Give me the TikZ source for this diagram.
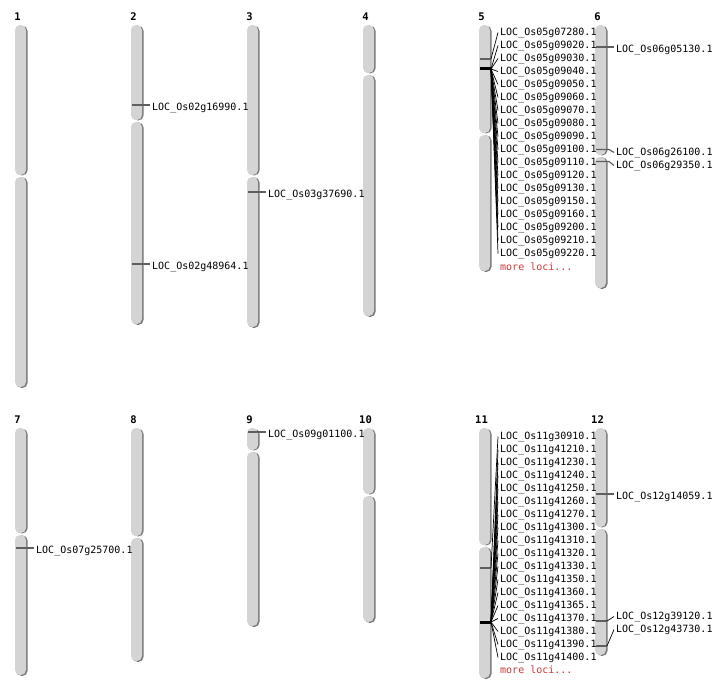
\documentclass[tikz,border=0pt]{standalone}
\usepackage{fontspec}
\newfontfamily\labfont{DejaVu Sans Mono}
\definecolor{armfill}{RGB}{212,212,212}
\definecolor{armshade}{RGB}{120,120,120}
\definecolor{mkgray}{RGB}{95,95,95}
\definecolor{morered}{RGB}{205,55,55}
\tikzset{
  armshadow/.style={fill=armshade, rounded corners=5bp},
  armbody/.style={fill=armfill, rounded corners=5bp},
  lab/.style={anchor=west, inner xsep=2bp, inner ysep=0pt, font=\labfont\fontsize{10bp}{12bp}\selectfont},
  more/.style={lab, text=morered},
  num/.style={inner sep=0pt, font=\labfont\bfseries\fontsize{10.5bp}{12bp}\selectfont},
  markline/.style={draw=mkgray, line width=1.6bp},
  hotmark/.style={draw=black, line width=3bp},
  fan/.style={draw=black, line width=0.7bp},
  conn/.style={draw=mkgray, line width=1.2bp},
}
% name, x-left, top, centromere, bottom
\newcommand\chromo[5]{%
  \fill[armshadow] (#2+1.5,#3+0.8) rectangle (#2+12.5,#4-0.6);
  \fill[armshadow] (#2+1.5,#4+1.4) rectangle (#2+12.5,#5+0.9);
  \fill[armbody] (#2,#3) rectangle (#2+11,#4-1);
  \fill[armbody] (#2,#4+1) rectangle (#2+11,#5);
  \coordinate (c#1) at (#2+5.5,#3);
  \node[num] (n#1) at (#2+2.5,#3-8) {#1};
}
\begin{document}
\begin{tikzpicture}[x=1bp,y=-1bp]
\useasboundingbox (0,0) rectangle (712,700);
% ---- row 1
\chromo{1}{15}{25}{176}{387}
\chromo{2}{131}{25}{121}{324}
\chromo{3}{247}{25}{176}{327}
\chromo{4}{363}{25}{74}{316}
\chromo{5}{479}{25}{134}{271}
\chromo{6}{595}{25}{156}{288}
% ---- row 2
\chromo{7}{15}{428}{534}{675}
\chromo{8}{131}{428}{537}{661}
\chromo{9}{247}{428}{451}{626}
\chromo{10}{363}{428}{495}{622}
\chromo{11}{479}{428}{546}{678}
\chromo{12}{595}{428}{528}{655}

% chromosome 2
\coordinate (m2a) at (132,105);
\node[lab] (l2a) at (150,107.5) {LOC\_Os02g16990.1};
\draw[conn] (m2a) -- (m2a -| l2a.west);
\coordinate (m2b) at (132,264);
\node[lab] (l2b) at (150,266.5) {LOC\_Os02g48964.1};
\draw[conn] (m2b) -- (m2b -| l2b.west);
% chromosome 3
\coordinate (m3a) at (248,192);
\node[lab] (l3a) at (266,194.5) {LOC\_Os03g37690.1};
\draw[conn] (m3a) -- (m3a -| l3a.west);
% chromosome 7
\coordinate (m7a) at (16,548);
\node[lab] (l7a) at (34,550.5) {LOC\_Os07g25700.1};
\draw[conn] (m7a) -- (m7a -| l7a.west);
% chromosome 9
\coordinate (m9a) at (248,432);
\node[lab] (l9a) at (266,435) {LOC\_Os09g01100.1};
\draw[conn] (m9a) -- (m9a -| l9a.west);

% chromosome 6
\coordinate (m6a) at (596,47);
\node[lab] (l6a) at (614,49.5) {LOC\_Os06g05130.1};
\draw[conn] (m6a) -- (m6a -| l6a.west);
\coordinate (m6b) at (596,149.5);
\coordinate (m6be) at (609,149.5);
\node[lab] (l6b) at (614,152.5) {LOC\_Os06g26100.1};
\draw[conn] (m6b) -- (m6be) -- (l6b.west);
\coordinate (m6c) at (596,161.5);
\coordinate (m6ce) at (609,161.5);
\node[lab] (l6c) at (614,165.5) {LOC\_Os06g29350.1};
\draw[conn] (m6c) -- (m6ce) -- (l6c.west);

% chromosome 12
\coordinate (m12a) at (596,494);
\node[lab] (l12a) at (614,496.5) {LOC\_Os12g14059.1};
\draw[conn] (m12a) -- (m12a -| l12a.west);
\coordinate (m12b) at (596,621);
\coordinate (m12be) at (607,621);
\node[lab] (l12b) at (614,616.5) {LOC\_Os12g39120.1};
\draw[conn] (m12b) -- (m12be);
\draw[fan] (m12be) -- (l12b.west);
\coordinate (m12c) at (596,646);
\coordinate (m12ce) at (607,646);
\node[lab] (l12c) at (614,629.5) {LOC\_Os12g43730.1};
\draw[conn] (m12c) -- (m12ce);
\draw[fan] (m12ce) -- (l12c.west);

% chromosome 5
\draw[markline] (480,59) -- (491,59);
\coordinate (m5a) at (491,59);
\draw[hotmark] (479.5,69) -- (491,69);
\coordinate (m5b) at (491,69);
\foreach \t [count=\i] in {07280,09020,09030,09040,09050,09060,09070,09080,09090,09100,09110,09120,09130,09150,09160,09200,09210,09220}
  \node[lab] (a\i) at (498,19.5+13*\i) {LOC\_Os05g\t.1};
\draw[fan] (m5a) -- (a1.west);
\foreach \i in {2,...,18} \draw[fan] (m5b) -- (a\i.west);
\node[more] (a19) at (498,266.5) {more loci...};

% chromosome 11
\draw[markline] (480,568) -- (491,568);
\coordinate (m11a) at (491,568);
\draw[hotmark] (479.5,622) -- (491,622);
\coordinate (m11b) at (491,622);
\foreach \t [count=\i] in {30910,41210,41230,41240,41250,41260,41270,41300,41310,41320,41330,41350,41360,41365,41370,41380,41390,41400}
  \node[lab] (b\i) at (498,423.5+13*\i) {LOC\_Os11g\t.1};
\draw[fan] (m11a) -- (b1.west);
\foreach \i in {2,...,18} \draw[fan] (m11b) -- (b\i.west);
\node[more] (b19) at (498,669.5) {more loci...};
\end{tikzpicture}
\end{document}
